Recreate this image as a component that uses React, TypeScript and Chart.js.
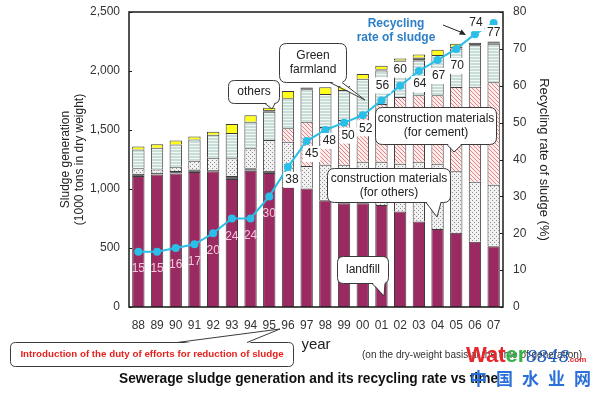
import React, { useEffect, useRef } from 'react';
import { Chart, registerables } from 'chart.js';

Chart.register(...registerables);

const years = ['88', '89', '90', '91', '92', '93', '94', '95', '96', '97', '98', '99', '00', '01', '02', '03', '04', '05', '06', '07'];
const landfill = [1110, 1122, 1132, 1145, 1150, 1085, 1155, 1135, 1020, 1005, 905, 880, 880, 865, 810, 725, 660, 630, 553, 515];
const minorUse = [20, 16, 20, 20, 12, 25, 20, 20, 0, 0, 0, 0, 0, 0, 0, 0, 0, 0, 0, 0];
const constructionOthers = [45, 28, 36, 75, 103, 150, 170, 260, 380, 190, 300, 325, 350, 365, 405, 505, 555, 520, 508, 520];
const constructionCement = [0, 0, 0, 0, 0, 0, 0, 0, 115, 375, 320, 380, 395, 490, 565, 565, 580, 715, 805, 870];
const greenFarmland = [160, 184, 190, 180, 195, 215, 225, 240, 255, 275, 280, 253, 310, 285, 295, 295, 340, 325, 353, 325];
const fuelUse = [0, 0, 0, 0, 0, 0, 0, 15, 0, 15, 0, 0, 0, 10, 15, 25, 0, 15, 20, 20];
const othersUse = [25, 30, 32, 25, 25, 75, 55, 18, 60, 0, 58, 34, 40, 30, 15, 25, 45, 25, 0, 0];
const recyclingRate = [15, 15, 16, 17, 20, 24, 24, 30, 38, 45, 48, 50, 52, 56, 60, 64, 67, 70, 74, 77];
const leftTicks = [0, 500, 1000, 1500, 2000, 2500];
const rightTicks = [0, 10, 20, 30, 40, 50, 60, 70, 80];

// label placement (style only)
const labelDx = [0, 0, 0, 0, 0, 0, 0, 0, 4, 5, 4, 4, 3, 1, 0, 1, 1, 1, 1, 0];
const labelDy = [17, 17, 17, 17, 17, 18, 17, 17, 13, 13, 11, 13, 13, -15, -16, 13, 16, 17, -11, 10];

const FONT = '"Liberation Sans", Arial, sans-serif';

function makePattern(kind: string): CanvasPattern | string {
  const c = document.createElement('canvas');
  const g = c.getContext('2d');
  if (!g) return '#ccc';
  if (kind === 'dots') {
    c.width = 4; c.height = 4;
    g.fillStyle = '#f1f1f1'; g.fillRect(0, 0, 4, 4);
    g.fillStyle = '#8f8f8f'; g.fillRect(0, 0, 1, 1); g.fillRect(2, 2, 1, 1);
  } else if (kind === 'hatch') {
    c.width = 4; c.height = 4;
    g.fillStyle = '#fcecec'; g.fillRect(0, 0, 4, 4);
    g.fillStyle = '#e58585';
    for (let i = 0; i < 4; i++) g.fillRect(i, i, 1, 1);
  } else if (kind === 'lines') {
    c.width = 4; c.height = 3;
    g.fillStyle = '#c8ddd8'; g.fillRect(0, 0, 4, 3);
    g.fillStyle = '#f3f8f7'; g.fillRect(0, 2, 4, 1);
  }
  return g.createPattern(c, 'repeat') || '#ccc';
}

function roundRect(ctx: CanvasRenderingContext2D, x: number, y: number, w: number, h: number, r: number) {
  ctx.beginPath();
  ctx.moveTo(x + r, y);
  ctx.lineTo(x + w - r, y);
  ctx.quadraticCurveTo(x + w, y, x + w, y + r);
  ctx.lineTo(x + w, y + h - r);
  ctx.quadraticCurveTo(x + w, y + h, x + w - r, y + h);
  ctx.lineTo(x + r, y + h);
  ctx.quadraticCurveTo(x, y + h, x, y + h - r);
  ctx.lineTo(x, y + r);
  ctx.quadraticCurveTo(x, y, x + r, y);
  ctx.closePath();
}

type Callout = { x: number; y: number; w: number; h: number; r: number; lines: string[]; base: [number, number]; edge: 'top' | 'bottom'; tip: [number, number]; color?: string; bold?: boolean; size?: number; lh?: number; fit?: number };

const callouts: Callout[] = [
  { x: 228, y: 80, w: 51, h: 23, r: 6, lines: ['others'], base: [265, 275], edge: 'bottom', tip: [272, 109] },
  { x: 279, y: 43, w: 67, h: 39, r: 7, lines: ['Green', 'farmland'], base: [330, 342], edge: 'bottom', tip: [365, 100] },
  { x: 375, y: 107, w: 121, h: 37, r: 7, lines: ['construction materials', '(for cement)'], base: [447, 462], edge: 'bottom', tip: [454, 152] },
  { x: 327, y: 168, w: 123, h: 34, r: 7, lines: ['construction materials', '(for others)'], base: [426, 441], edge: 'bottom', tip: [437, 217] },
  { x: 337, y: 256, w: 51, h: 27, r: 6, lines: ['landfill'], base: [372, 385], edge: 'bottom', tip: [384, 296] },
];

const redCallout: Callout = { x: 10, y: 342, w: 283, h: 24, r: 5, lines: ['Introduction of the duty of efforts for reduction of sludge'], base: [177, 247], edge: 'top', tip: [280, 329], color: '#e3211c', bold: true, size: 11, fit: 266 };

function fitFont(ctx: CanvasRenderingContext2D, text: string, prefix: string, size: number, target: number, family: string) {
  let s = size;
  ctx.font = `${prefix}${s}px ${family}`;
  while (ctx.measureText(text).width > target && s > 6) {
    s -= 0.25;
    ctx.font = `${prefix}${s}px ${family}`;
  }
  return s;
}

function drawCallout(ctx: CanvasRenderingContext2D, c: Callout) {
  ctx.save();
  ctx.lineWidth = 1;
  ctx.strokeStyle = '#3a3a3a';
  ctx.fillStyle = '#ffffff';
  roundRect(ctx, c.x + 0.5, c.y + 0.5, c.w, c.h, c.r);
  ctx.fill();
  ctx.stroke();
  const ey = c.edge === 'bottom' ? c.y + c.h + 0.5 : c.y + 0.5;
  const inset = c.edge === 'bottom' ? -1.5 : 1.5;
  ctx.beginPath();
  ctx.moveTo(c.base[0], ey + inset);
  ctx.lineTo(c.tip[0], c.tip[1]);
  ctx.lineTo(c.base[1], ey + inset);
  ctx.closePath();
  ctx.fill();
  ctx.beginPath();
  ctx.moveTo(c.base[0], ey);
  ctx.lineTo(c.tip[0], c.tip[1]);
  ctx.lineTo(c.base[1], ey);
  ctx.stroke();
  const size = c.size || 12;
  const lh = c.lh || 14;
  ctx.fillStyle = c.color || '#222';
  const prefix = c.bold ? 'bold ' : '';
  ctx.font = `${prefix}${size}px ${FONT}`;
  if (c.fit) fitFont(ctx, c.lines[0], prefix, size, c.fit, FONT);
  ctx.textAlign = 'center';
  ctx.textBaseline = 'middle';
  const cx = c.x + c.w / 2 + 0.5;
  const cy = c.y + c.h / 2 + 0.5;
  const n = c.lines.length;
  c.lines.forEach((t, i) => ctx.fillText(t, cx, cy + (i - (n - 1) / 2) * lh));
  ctx.restore();
}

const overlayPlugin = {
  id: 'overlay',
  beforeDatasetDraw(chart: any, args: any) {
    if (args.meta.type === 'line') {
      callouts.forEach((c) => drawCallout(chart.ctx, c));
    }
  },
  afterDatasetsDraw(chart: any) {
    const ctx: CanvasRenderingContext2D = chart.ctx;
    const area = chart.chartArea;
    const lineIdx = chart.data.datasets.findIndex((d: any) => d.type === 'line');
    const meta = chart.getDatasetMeta(lineIdx);
    ctx.save();
    ctx.font = `12px ${FONT}`;
    ctx.textAlign = 'center';
    ctx.textBaseline = 'middle';
    meta.data.forEach((pt: any, i: number) => {
      const x = pt.x + labelDx[i];
      const y = pt.y + labelDy[i];
      const t = String(recyclingRate[i]);
      if (i < 8) {
        ctx.fillStyle = '#f5c8dc';
        ctx.fillText(t, x, y);
      } else {
        const w = ctx.measureText(t).width + 4;
        ctx.fillStyle = '#ffffff';
        ctx.fillRect(x - w / 2, y - 8, w, 16);
        ctx.fillStyle = '#222';
        ctx.fillText(t, x, y);
      }
    });
    // frame
    ctx.strokeStyle = '#1a1a1a';
    ctx.lineWidth = 1.5;
    ctx.strokeRect(area.left, area.top, area.right - area.left, area.bottom - area.top);
    // small inner ticks
    ctx.lineWidth = 1;
    const ys = chart.scales.y;
    leftTicks.forEach((v) => {
      const py = Math.round(ys.getPixelForValue(v)) + 0.5;
      ctx.beginPath(); ctx.moveTo(area.left, py); ctx.lineTo(area.left + 3, py); ctx.stroke();
    });
    const yr = chart.scales.y1;
    rightTicks.forEach((v) => {
      const py = Math.round(yr.getPixelForValue(v)) + 0.5;
      ctx.beginPath(); ctx.moveTo(area.right, py); ctx.lineTo(area.right - 3, py); ctx.stroke();
    });
    ctx.restore();
  },
  afterDraw(chart: any) {
    const ctx: CanvasRenderingContext2D = chart.ctx;
    ctx.save();
    // recycling rate caption
    ctx.fillStyle = '#2d7fc6';
    ctx.font = `bold 12px ${FONT}`;
    ctx.textAlign = 'center';
    ctx.textBaseline = 'middle';
    ctx.fillText('Recycling', 396, 24);
    ctx.fillText('rate of sludge', 396, 38);
    // arrow
    ctx.strokeStyle = '#222';
    ctx.fillStyle = '#222';
    ctx.lineWidth = 1;
    ctx.beginPath(); ctx.moveTo(443, 25); ctx.lineTo(463, 33); ctx.stroke();
    ctx.beginPath(); ctx.moveTo(466, 35); ctx.lineTo(459, 34.5); ctx.lineTo(461.5, 29.5); ctx.closePath(); ctx.fill();
    // red callout
    drawCallout(ctx, redCallout);
    // footnote
    ctx.fillStyle = '#333';
    ctx.font = `10px ${FONT}`;
    ctx.textAlign = 'left';
    ctx.fillText('(on the dry-weight basis at the time of generation)', 362, 355);
    // title
    ctx.fillStyle = '#111';
    const title = 'Sewerage sludge generation and its recycling rate vs time';
    fitFont(ctx, title, 'bold ', 15, 384, FONT);
    ctx.textAlign = 'left';
    ctx.fillText(title, 119, 379);
    // watermark
    ctx.textBaseline = 'alphabetic';
    ctx.font = `bold 22px ${FONT}`;
    ctx.fillStyle = '#e8262b';
    ctx.fillText('Wat', 466, 362);
    let wx = 466 + ctx.measureText('Wat').width;
    ctx.fillStyle = '#39b24a';
    ctx.fillText('er', wx, 362);
    wx += ctx.measureText('er').width;
    ctx.font = `italic 17px "DejaVu Serif", serif`;
    ctx.fillStyle = '#1f5cc0';
    ctx.fillText('8848', wx, 362);
    wx += ctx.measureText('8848').width;
    ctx.font = `bold 8px ${FONT}`;
    ctx.fillStyle = '#e8262b';
    ctx.fillText('.com', wx - 2, 362);
    ctx.font = `bold 17px "Noto Sans CJK SC", sans-serif`;
    ctx.fillStyle = '#2b6fd8';
    ['中', '国', '水', '业', '网'].forEach((ch, i) => ctx.fillText(ch, 470 + i * 26, 385));
    ctx.restore();
  },
};

const nz = (arr: number[]) => arr.map((v) => (v === 0 ? null : v));

export default function App() {
  const ref = useRef<HTMLCanvasElement | null>(null);
  useEffect(() => {
    if (!ref.current) return;
    const dots = makePattern('dots');
    const hatch = makePattern('hatch');
    const lines = makePattern('lines');
    const barBase = { type: 'bar' as const, borderColor: '#3c3c3c', borderWidth: 1, borderSkipped: 'start' as const, yAxisID: 'y', order: 1, barPercentage: 0.66, categoryPercentage: 1 };
    const chart = new Chart(ref.current, {
      type: 'bar',
      data: {
        labels: years,
        datasets: [
          { ...barBase, label: 'landfill', data: nz(landfill), backgroundColor: '#9a2a61' },
          { ...barBase, label: 'minor', data: nz(minorUse), backgroundColor: '#6b6b6b' },
          { ...barBase, label: 'construction materials (for others)', data: nz(constructionOthers), backgroundColor: dots },
          { ...barBase, label: 'construction materials (for cement)', data: nz(constructionCement), backgroundColor: hatch },
          { ...barBase, label: 'Green farmland', data: nz(greenFarmland), backgroundColor: lines },
          { ...barBase, label: 'fuel', data: nz(fuelUse), backgroundColor: '#5a5a5a' },
          { ...barBase, label: 'others', data: nz(othersUse), backgroundColor: '#ffff1a' },
          {
            type: 'line', label: 'Recycling rate of sludge', data: recyclingRate, yAxisID: 'y1', order: 0,
            borderColor: '#29bfe8', backgroundColor: '#29bfe8', borderWidth: 2, pointRadius: 4, pointBorderWidth: 0,
            pointBackgroundColor: '#29bfe8', tension: 0,
          } as any,
        ],
      },
      options: {
        responsive: false,
        animation: false,
        devicePixelRatio: 1,
        layout: { padding: { top: 12, left: 0, right: 0, bottom: 0 } },
        plugins: { legend: { display: false }, tooltip: { enabled: false } },
        scales: {
          x: {
            stacked: true,
            grid: { display: false, drawTicks: false },
            border: { display: false },
            ticks: { color: '#333', font: { size: 12, family: FONT }, padding: 11, maxRotation: 0, autoSkip: false },
            title: { display: true, text: 'year', color: '#222', font: { size: 15, family: FONT }, padding: { top: 0, bottom: 40 } },
            afterFit: (s: any) => { s.height = 87; s.paddingLeft = 0; s.paddingRight = 0; },
          },
          y: {
            stacked: true,
            position: 'left',
            min: 0,
            max: 2500,
            grid: { display: false, drawTicks: false },
            border: { display: false },
            ticks: { stepSize: 500, color: '#333', font: { size: 12, family: FONT }, padding: 9, callback: (v: any) => Number(v).toLocaleString('en-US') },
            title: { display: true, text: ['Sludge generation', '(1000 tons in dry weight)'], color: '#222', font: { size: 12, family: FONT, lineHeight: 1.2 }, padding: { top: 58, bottom: 0 } },
            afterFit: (s: any) => { s.width = 129; s.paddingTop = 0; s.paddingBottom = 0; },
          },
          y1: {
            position: 'right',
            min: 0,
            max: 80,
            grid: { display: false, drawTicks: false },
            border: { display: false },
            ticks: { stepSize: 10, color: '#333', font: { size: 12, family: FONT }, padding: 10 },
            title: { display: true, text: 'Recycling rate of sludge (%)', color: '#222', font: { size: 13, family: FONT, lineHeight: 1.2 }, padding: { top: 40, bottom: 0 } },
            afterFit: (s: any) => { s.width = 88; s.paddingTop = 0; s.paddingBottom = 0; },
          },
        },
      },
      plugins: [overlayPlugin],
    } as any);
    return () => chart.destroy();
  }, []);
  return (
    <div style={{ position: 'absolute', left: 0, top: 0, width: 591, height: 394, background: '#fff' }}>
      <canvas ref={ref} width={591} height={394} style={{ display: 'block', width: 591, height: 394 }} />
    </div>
  );
}
